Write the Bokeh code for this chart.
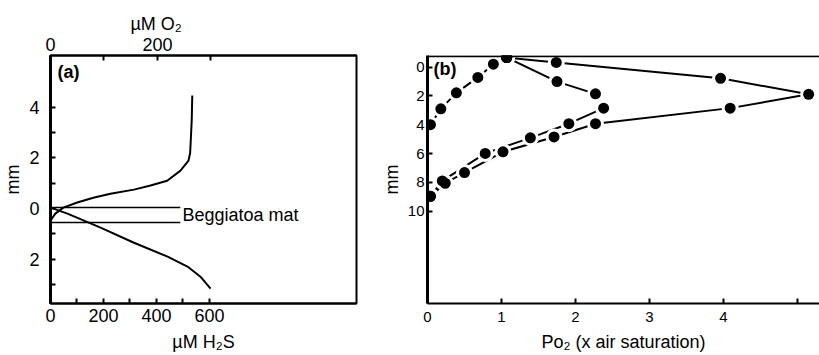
from bokeh.plotting import figure
from bokeh.models import Range1d, LinearAxis, FixedTicker, Span, Label
from bokeh.layouts import row
from bokeh.embed import file_html
from bokeh.resources import INLINE

FONT = "Liberation Sans"

# ---------------- Panel (a) data ----------------
o2_depth = [4.47, 3.5, 2.6, 2.2, 1.9, 1.5, 1.1, 0.91, 0.75, 0.59, 0.43, 0.24, 0.04, -0.2, -0.47]
o2_um = [265, 264, 262, 261, 258, 243, 218, 187, 156, 112, 80, 50, 24, 9, 0]

h2s_depth = [0.0, -0.2, -0.75, -1.34, -1.9, -2.29, -2.69, -3.16]
h2s_um = [11, 64, 189, 313, 442, 517, 566, 604]

mat_x = [0, 490]
mat_top = 0.04
mat_bottom = -0.55

a_left_ticks = [-2, 0, 2, 4]
a_left_minor = [-3, -1, 1, 3]
a_bottom_ticks = [0, 200, 400, 600]
a_bottom_minor = [100, 300, 500]
a_top_ticks = [0, 200]
a_top_minor = [100, 300]

# ---------------- Panel (b) data ----------------
p1_x = [1.07, 0.89, 0.68, 0.39, 0.18, 0.04]
p1_d = [-0.66, -0.20, 0.72, 1.79, 2.90, 4.0]

p2_x = [1.07, 1.75, 2.27, 2.38, 1.91, 1.39, 0.78, 0.20, 0.04]
p2_d = [-0.66, 1.01, 1.86, 2.85, 3.93, 4.91, 5.99, 7.90, 8.97]

p3_x = [1.07, 1.74, 3.96, 5.15, 4.09, 2.27, 1.71, 1.02, 0.50, 0.24, 0.04]
p3_d = [-0.66, -0.32, 0.78, 1.89, 2.85, 3.93, 4.85, 5.88, 7.32, 8.06, 8.97]

b_x_ticks = [0, 1, 2, 3, 4, 5]
b_y_ticks = [0, 2, 4, 6, 8, 10]


def style_axis(ax, font_size, line_width=2):
    ax.axis_line_width = line_width
    ax.axis_line_color = "black"
    ax.major_tick_in = 5
    ax.major_tick_out = 0
    ax.minor_tick_in = 5
    ax.minor_tick_out = 0
    ax.major_tick_line_width = 2
    ax.minor_tick_line_width = 2
    ax.major_label_text_font = FONT
    ax.major_label_text_font_size = font_size
    ax.major_label_text_color = "black"
    ax.axis_label_text_font = FONT
    ax.axis_label_text_font_style = "normal"
    ax.axis_label_text_font_size = "18px"
    ax.axis_label_text_color = "black"


# ---------------- Figure A ----------------
pA = figure(width=370, height=355, x_range=Range1d(0, 1155), y_range=Range1d(-3.75, 6.05),
            output_backend="svg", toolbar_location=None,
            min_border_left=50, min_border_right=14, min_border_top=55, min_border_bottom=52)
pA.grid.visible = False
pA.outline_line_color = "black"
pA.outline_line_width = 2
pA.background_fill_color = "white"
pA.border_fill_color = "white"
pA.extra_x_ranges = {"o2": Range1d(0, 572)}

pA.title.text = "µM O₂"
pA.title.align = "left"
pA.title.offset = 80
pA.title.text_font = FONT
pA.title.text_font_size = "18px"
pA.title.text_font_style = "normal"
pA.title.text_color = "black"
pA.title.standoff = 2

xa = pA.xaxis[0]
xa.ticker = FixedTicker(ticks=a_bottom_ticks, minor_ticks=a_bottom_minor)
xa.axis_label = "µM H₂S"
style_axis(xa, "18px")
xa.major_label_standoff = 5
xa.axis_label_standoff = 7

ya = pA.yaxis[0]
ya.ticker = FixedTicker(ticks=a_left_ticks, minor_ticks=a_left_minor)
ya.major_label_overrides = {-2: "2"}
ya.axis_label = "mm"
style_axis(ya, "18px", line_width=3)
ya.major_label_standoff = 11
ya.axis_label_standoff = 3

top = LinearAxis(x_range_name="o2", ticker=FixedTicker(ticks=a_top_ticks, minor_ticks=a_top_minor))
style_axis(top, "18px")
top.major_label_standoff = 5
pA.add_layout(top, "above")

pA.line(o2_um, o2_depth, x_range_name="o2", line_color="black", line_width=2)
pA.line(h2s_um, h2s_depth, line_color="black", line_width=2)
pA.segment(x0=[mat_x[0], mat_x[0]], y0=[mat_top, mat_bottom], x1=[mat_x[1], mat_x[1]],
           y1=[mat_top, mat_bottom], line_color="black", line_width=1.5)

pA.add_layout(Label(x=498, y=-0.27, text="Beggiatoa mat", text_font=FONT, text_font_size="18px",
                    text_baseline="middle", text_align="left", text_color="black"))
pA.add_layout(Label(x=26, y=5.4, text="(a)", text_font=FONT, text_font_size="18px",
                    text_font_style="bold", text_baseline="middle", text_align="left",
                    text_color="black"))

# ---------------- Figure B ----------------
pB = figure(width=449, height=355, x_range=Range1d(0, 5.297), y_range=Range1d(16.4, -0.8),
            output_backend="svg", toolbar_location=None,
            min_border_left=57, min_border_right=0, min_border_top=53, min_border_bottom=52)
pB.grid.visible = False
pB.outline_line_color = None
pB.background_fill_color = "white"
pB.border_fill_color = "white"

xb = pB.xaxis[0]
xb.ticker = FixedTicker(ticks=b_x_ticks)
xb.major_label_overrides = {5: ""}
xb.axis_label = "Po₂ (x air saturation)"
style_axis(xb, "15px")
xb.major_label_standoff = 8
xb.axis_label_standoff = 7

yb = pB.yaxis[0]
yb.ticker = FixedTicker(ticks=b_y_ticks)
yb.axis_label = "mm"
style_axis(yb, "15px", line_width=3)
yb.major_label_standoff = 3
yb.axis_label_standoff = 3

pB.add_layout(Span(location=-0.74, dimension="width", line_color="black", line_width=2))

for xs, ds in [(p1_x, p1_d), (p2_x, p2_d), (p3_x, p3_d)]:
    pB.line(xs, ds, line_color="black", line_width=2)
for xs, ds in [(p1_x, p1_d), (p2_x, p2_d), (p3_x, p3_d)]:
    pB.scatter(xs, ds, size=17, fill_color="white", line_color=None)
for xs, ds in [(p1_x, p1_d), (p2_x, p2_d), (p3_x, p3_d)]:
    pB.scatter(xs, ds, size=11, fill_color="black", line_color=None)

pB.add_layout(Label(x=0.08, y=0.17, text="(b)", text_font=FONT, text_font_size="18px",
                    text_font_style="bold", text_baseline="middle", text_align="left",
                    text_color="black"))

layout = row(pA, pB)
open("out.html", "w").write(file_html(layout, INLINE))
